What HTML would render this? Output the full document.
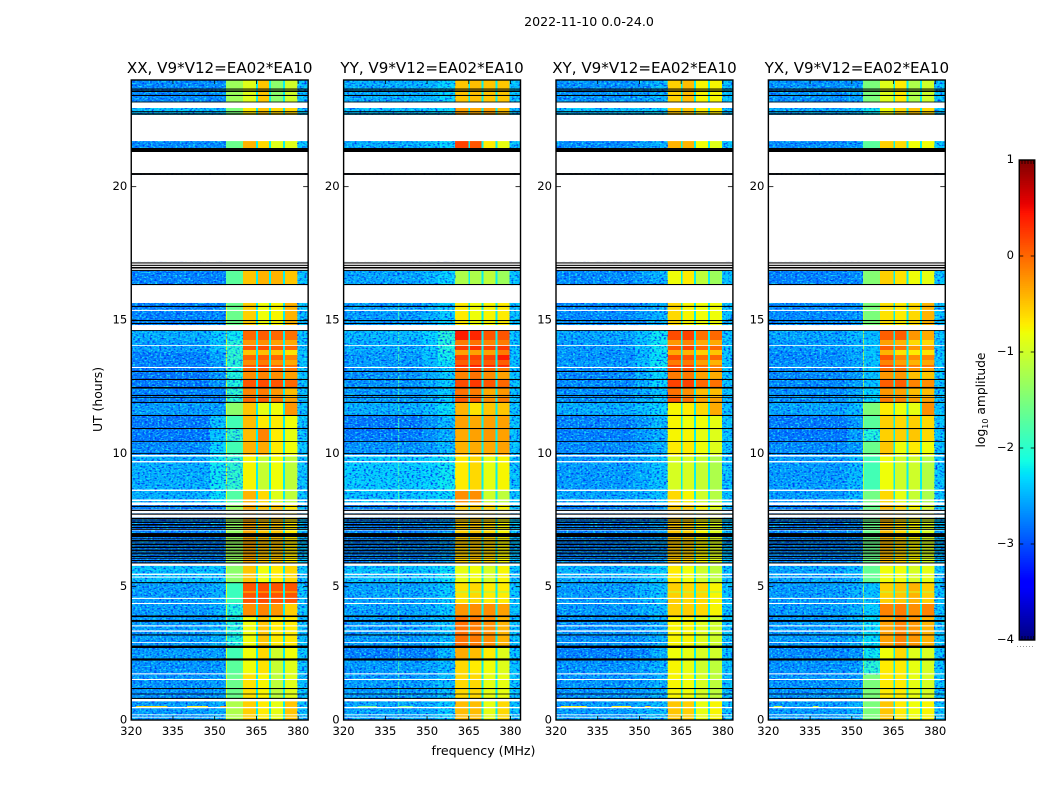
<!DOCTYPE html>
<html><head><meta charset="utf-8"><title>Dynamic spectra</title>
<style>
html,body{margin:0;padding:0;background:#fff;width:1050px;height:800px;overflow:hidden}
svg text{font-family:"DejaVu Sans","Liberation Sans",sans-serif;fill:#000}
</style></head>
<body>
<svg id="figure" xmlns="http://www.w3.org/2000/svg" width="1050" height="800" viewBox="0 0 1050 800">
<defs>
<filter id="speckle-dark" x="0" y="0" width="100%" height="100%" color-interpolation-filters="sRGB">
<feTurbulence type="fractalNoise" baseFrequency="0.42 0.6" numOctaves="1" seed="3"/>
<feColorMatrix type="matrix" values="0 0 0 0 0  0 0 0 0 0.22  0 0 0 0 0.95  4 0 0 0 -1.9"/>
</filter>
<filter id="speckle-light" x="0" y="0" width="100%" height="100%" color-interpolation-filters="sRGB">
<feTurbulence type="fractalNoise" baseFrequency="0.45 0.65" numOctaves="1" seed="11"/>
<feColorMatrix type="matrix" values="0 0 0 0 0.1  0 0 0 0 0.9  0 0 0 0 0.95  0 4 0 0 -2.0"/>
</filter>
</defs>
<text x="589" y="26" font-size="12.6" text-anchor="middle">2022-11-10 0.0-24.0</text>
<text x="483.5" y="755" font-size="12.6" text-anchor="middle">frequency (MHz)</text>
<text transform="translate(102,399.5) rotate(-90)" font-size="12.4" text-anchor="middle">UT (hours)</text>
<text transform="translate(985,400) rotate(-90)" font-size="12.3" text-anchor="middle">log<tspan font-size="8" dy="3">10</tspan><tspan dy="-3"> amplitude</tspan></text>
</svg>
<script>
// ---- axis values ----
const panelTitles = ['XX, V9*V12=EA02*EA10','YY, V9*V12=EA02*EA10','XY, V9*V12=EA02*EA10','YX, V9*V12=EA02*EA10'];
const freqTicks = [320,335,350,365,380];
const hourTicks = [0,5,10,15,20];
const colorbarTicks = [1,0,-1,-2,-3,-4];
// frequency channel-group edges in MHz
const freqEdges = [320,348.4,354,360.1,364.9,365.5,369.6,370.3,374.6,375.3,379.7,383.6];
// which value in a row each frequency group reads: 0 low, 1 mid, 2 shoulder, 3-6 bands, 7 gap, 8 edge
const freqColumnSource = [0,1,2,3,7,4,7,5,7,6,8];
const gapLevel = -2.2;
const edgeLevel = -2.4;
// time rows, UT hours
const rowFromHours = [22.95,22.69,21.30,16.31,14.81,14.25,13.80,13.46,13.20,12.45,11.89,11.44,10.95,10.46,9.94,8.63,8.06,5.78,5.15,4.39,3.90,2.75,2.25,1.70,0.80,0.00];
const rowToHours   = [24.00,22.95,21.71,16.86,15.64,14.62,14.25,13.80,13.46,13.20,12.45,11.89,11.44,10.95,10.46,9.94,8.63,8.06,5.78,5.15,4.39,3.90,2.75,2.25,1.70,0.80];
// log10 amplitude per row: low, mid, shoulder, band1, band2, band3, band4
const xxLevels = [
[-2.7,-2.7,-1.3,-0.9,-0.5,-1.4,-1.0],[-2.4,-2.4,-1.5,-0.7,-0.5,-0.6,-0.6],[-2.7,-2.7,-1.6,-0.4,-0.6,-0.9,-0.9],[-2.75,-2.75,-1.7,-0.5,-0.4,-0.4,-0.5],
[-2.75,-2.7,-1.6,-0.55,-0.8,-0.75,-0.4],[-2.5,-2.35,-2.2,0,0.05,0,-0.05],[-2.6,-2.4,-2.0,0.1,0.15,0.05,0],[-2.75,-2.55,-1.95,0,0.05,0,-0.15],
[-2.75,-2.6,-2.0,0.1,0.2,0.05,-0.05],[-2.8,-2.65,-2.05,-0.2,-0.15,-0.2,-0.3],[-2.75,-2.75,-1.95,0,0.05,-0.1,-0.3],[-2.6,-2.6,-1.4,-0.5,-0.85,-0.8,-0.25],
[-2.8,-2.4,-1.85,-0.45,-0.7,-0.7,-0.8],[-2.8,-2.4,-1.95,-0.45,-0.15,-0.7,-0.85],[-2.7,-2.3,-1.85,-0.4,-0.35,-0.7,-0.8],[-2.5,-2.2,-1.95,-0.75,-1.05,-0.8,-1.1],
[-2.5,-2.25,-1.75,-0.4,-0.6,-0.9,-1.1],[-2.75,-2.75,-1.35,-0.35,-0.5,-0.5,-0.7],[-2.4,-2.4,-1.4,-0.5,-0.8,-0.7,-0.6],[-2.6,-2.5,-1.9,0.1,0.15,0.1,0.1],
[-2.6,-2.5,-2.05,-0.2,-0.15,-0.25,-0.55],[-2.6,-2.5,-2.05,-0.8,-0.5,-0.7,-0.7],[-2.6,-2.6,-1.85,-0.8,-0.6,-1.0,-0.8],[-2.65,-2.6,-1.7,-0.8,-0.65,-1.05,-0.9],
[-2.65,-2.6,-1.6,-0.65,-0.75,-1.1,-0.9],[-2.6,-2.5,-1.2,-0.55,-0.7,-0.85,-0.5]];
const yyLevels = [
[-2.5,-2.45,-2.3,-0.5,-0.45,-0.5,-0.5],[-2.4,-2.35,-2.3,-0.3,-0.35,-0.3,-0.45],[-2.5,-2.4,-2.3,0.2,0.1,-0.7,-0.85],[-2.55,-2.45,-2.3,-1.2,-1.2,-1.1,-1.3],
[-2.6,-2.5,-2.35,-0.7,-0.8,-0.75,-0.7],[-2.45,-2.3,-2.0,0.4,0.35,0.1,0.1],[-2.5,-2.35,-2.05,0.25,0.3,0.2,0.25],[-2.6,-2.4,-2.15,0.2,0.2,0.2,0.4],
[-2.6,-2.45,-2.25,0.35,0.4,0.35,0.35],[-2.65,-2.5,-2.35,-0.15,-0.05,-0.2,-0.3],[-2.6,-2.5,-2.35,0.1,0.05,-0.2,-0.1],[-2.5,-2.4,-2.25,-0.4,-0.65,-0.5,-0.5],
[-2.8,-2.65,-2.45,-0.3,-0.35,-0.3,-0.3],[-2.8,-2.65,-2.5,-0.35,-0.3,-0.25,-0.3],[-2.65,-2.6,-2.45,-0.4,-0.35,-0.35,-0.3],[-2.35,-2.3,-2.2,-0.7,-0.6,-0.85,-0.75],
[-2.4,-2.35,-2.25,-0.2,-0.2,-1.0,-1.1],[-2.75,-2.7,-2.6,-0.55,-0.5,-0.6,-0.75],[-2.4,-2.35,-2.25,-0.85,-0.8,-0.95,-0.75],[-2.55,-2.5,-2.35,-0.65,-0.6,-0.7,-0.7],
[-2.55,-2.5,-2.35,-0.25,-0.2,-0.2,-0.3],[-2.6,-2.5,-2.4,-0.05,-0.1,-0.2,-0.4],[-2.75,-2.7,-2.45,-0.35,-0.45,-0.7,-0.9],[-2.6,-2.55,-2.45,-0.6,-0.7,-0.8,-0.9],
[-2.6,-2.55,-2.45,-0.6,-0.6,-0.85,-0.85],[-2.55,-2.5,-2.35,-0.45,-0.45,-0.85,-0.6]];
const xyLevels = [
[-2.65,-2.6,-2.5,-0.55,-0.45,-0.75,-0.75],[-2.4,-2.4,-2.3,-0.5,-0.5,-0.7,-0.7],[-2.7,-2.6,-2.5,-0.4,-0.4,-0.8,-0.9],[-2.7,-2.6,-2.5,-0.8,-0.7,-1.1,-1.3],
[-2.7,-2.6,-2.5,-0.6,-0.75,-0.8,-0.8],[-2.55,-2.4,-2.2,0.15,0.2,-0.05,0],[-2.6,-2.4,-2.2,0.1,0.2,0,0],[-2.65,-2.45,-2.25,0.15,0.1,-0.05,0],
[-2.6,-2.4,-2.2,0.2,0.2,0,-0.1],[-2.7,-2.5,-2.3,-0.1,-0.1,-0.3,-0.35],[-2.65,-2.5,-2.4,0.1,-0.05,-0.3,-0.3],[-2.5,-2.4,-2.3,-0.75,-0.7,-0.6,-0.35],
[-2.75,-2.6,-2.45,-0.75,-0.8,-0.8,-0.85],[-2.75,-2.6,-2.5,-0.75,-0.75,-0.85,-0.9],[-2.7,-2.6,-2.5,-0.7,-0.7,-0.8,-0.9],[-2.6,-2.5,-2.4,-0.95,-0.95,-1.05,-1.2],
[-2.55,-2.5,-2.4,-0.6,-0.75,-1.0,-1.15],[-2.75,-2.7,-2.6,-0.5,-0.55,-0.75,-0.9],[-2.5,-2.45,-2.35,-0.7,-0.8,-1.0,-1.1],[-2.6,-2.5,-2.4,-0.55,-0.6,-0.6,-0.75],
[-2.6,-2.5,-2.45,-0.55,-0.55,-0.6,-0.75],[-2.65,-2.6,-2.5,-0.75,-0.75,-0.9,-1.0],[-2.75,-2.7,-2.5,-0.8,-0.85,-0.95,-1.0],[-2.65,-2.6,-2.5,-0.75,-0.85,-1.0,-1.1],
[-2.65,-2.6,-2.5,-0.75,-0.8,-0.95,-1.1],[-2.6,-2.5,-2.45,-0.5,-0.55,-0.85,-0.75]];
const yxLevels = [
[-2.65,-2.6,-1.5,-0.9,-0.7,-1.2,-1.0],[-2.5,-2.45,-2.2,-0.8,-0.6,-0.5,-0.6],[-2.7,-2.65,-1.7,-0.55,-0.6,-0.8,-0.8],[-2.75,-2.7,-1.45,-0.55,-0.65,-0.8,-0.85],
[-2.7,-2.65,-1.5,-0.65,-0.7,-0.6,-0.4],[-2.55,-2.45,-2.45,0.05,0.05,-0.25,-0.35],[-2.6,-2.5,-2.4,0.05,-0.05,-0.25,-0.25],[-2.7,-2.55,-2.4,0.1,-0.15,-0.2,-0.15],
[-2.65,-2.55,-2.4,0.15,0,-0.1,-0.05],[-2.7,-2.6,-2.4,-0.25,-0.25,-0.45,-0.5],[-2.65,-2.55,-2.3,-0.1,-0.15,-0.3,-0.3],[-2.55,-2.45,-1.5,-0.7,-0.8,-0.85,-0.2],
[-2.8,-2.6,-1.7,-0.55,-0.6,-0.55,-0.6],[-2.8,-2.6,-2.05,-0.55,-0.55,-0.5,-0.6],[-2.7,-2.6,-1.6,-0.5,-0.8,-0.7,-0.8],[-2.6,-2.45,-1.85,-0.8,-1.0,-1.0,-1.15],
[-2.6,-2.45,-1.55,-0.6,-0.85,-1.05,-1.2],[-2.75,-2.7,-1.6,-0.45,-0.6,-0.75,-0.95],[-2.55,-2.45,-1.65,-0.8,-0.8,-0.95,-0.85],[-2.6,-2.5,-2.4,-0.55,-0.5,-0.4,-0.55],
[-2.6,-2.5,-2.35,-0.15,-0.1,-0.2,-0.15],[-2.6,-2.5,-2.25,-0.3,-0.15,-0.25,-0.4],[-2.7,-2.65,-2.2,-0.8,-0.6,-0.9,-0.95],[-2.65,-2.6,-2.0,-0.7,-0.7,-0.85,-0.95],
[-2.65,-2.6,-1.5,-0.7,-0.7,-0.85,-0.95],[-2.6,-2.5,-1.5,-0.5,-0.7,-0.8,-0.75]];
// horizontal stripes across the bright bands: from hour, to hour, change in log amplitude
const stripeFromHours = [14.06,13.69,13.31,13.05,12.49,12.11,4.78];
const stripeToHours   = [14.25,13.875,13.5,13.2,12.75,12.45,4.82];
const stripeDeltas    = [-0.35,-0.5,-0.3,0.2,0.3,-0.15,-0.6];
// persistent single channels: panel index, MHz, from hour, to hour, log amplitude
const channelPanels = [0,1,3];
const channelFreqs = [354.2,339.8,354.2];
const channelFromHours = [0,0,0];
const channelToHours = [15.6,15.6,15.6];
const channelLevels = [-0.8,-1.8,-1.2];
// bright interference pieces: panel index, hour, MHz start, MHz end, log amplitude
const rfiPanels = [0,0,0,2,2,2,3,3,1,1];
const rfiHours = [0.5,0.5,0.5,0.5,0.5,0.5,0.5,0.5,0.5,0.5];
const rfiStartFreqs = [321.7,340,352,321.7,340,352,322,336,325,340];
const rfiEndFreqs = [333,347.6,354,331,347,354,325,338,332,345];
const rfiLevels = [-0.6,-0.7,-0.2,-0.7,-0.7,-0.6,-1.0,-1.0,-1.5,-1.5];
// flagged-but-blank time ranges [from,to] in UT hours
const blankRanges = [[22.95,23.16],[21.71,22.69],[20.51,21.3],[17.18,20.44],[16.84,17.18],[15.64,16.31],[15.34,15.38],[14.62,14.81],[14.03,14.06],[13.2,13.24],[9.88,9.94],[9.66,9.71],[8.59,8.64],[8.21,8.27],[8.06,8.16],[7.75,7.89],[7.59,7.71],[7.11,7.16],[5.78,5.87],[5.44,5.49],[5.34,5.38],[4.54,4.58],[4.35,4.39],[3.51,3.55],[3.31,3.36],[2.89,2.92],[1.71,1.75],[1.5,1.54],[0.7,0.79],[0.44,0.49],[0.18,0.21],[0.09,0.12]];
// scan-boundary black ranges [from,to] in UT hours
const blackRanges = [[23.64,23.68],[23.55,23.61],[23.4,23.44],[23.16,23.19],[22.79,22.83],[22.7,22.75],[21.3,21.45],[20.44,20.51],[17.12,17.16],[17.03,17.07],[16.93,16.99],[16.84,16.88],[16.31,16.35],[15.49,15.53],[14.96,15.0],[14.85,14.89],[14.59,14.62],[13.05,13.09],[12.75,12.79],[12.43,12.49],[12.15,12.19],[12.08,12.11],[11.89,11.93],[11.4,11.44],[10.91,10.95],[10.43,10.46],[9.98,10.01],[7.99,8.03],[7.84,7.88],[7.7,7.74],[7.52,7.58],[7.45,7.48],[7.39,7.43],[7.29,7.35],[7.2,7.24],[7.13,7.17],[6.86,7.01],[6.78,6.81],[6.69,6.75],[6.62,6.65],[6.56,6.6],[6.51,6.53],[6.45,6.49],[6.4,6.42],[6.34,6.38],[6.28,6.31],[6.23,6.26],[6.18,6.2],[6.11,6.15],[6.05,6.08],[5.96,6.0],[5.87,5.91],[5.13,5.17],[3.86,3.92],[3.68,3.75],[3.17,3.21],[2.7,2.79],[2.23,2.31],[1.16,1.2],[0.96,0.99],[0.79,0.83]];
// upper frequency of the noisy background in each panel, MHz
const noiseEndFreqs = [354,360.1,360.1,354];

// ---- layout ----
const SVGNS = 'http://www.w3.org/2000/svg';
const svg = document.getElementById('figure');
const panelLefts = [131.25,343.62,556,768.37];
const panelWidth = 176.9, plotTop = 80, plotBottom = 720;
const freqMin = 320, freqMax = 383.6, hourMin = 0, hourMax = 24;
const allLevels = [xxLevels,yyLevels,xyLevels,yxLevels];
const cbLeft = 1019.25, cbRight = 1034.75, cbTop = 160, cbBottom = 640, cbMin = -4, cbMax = 1;
const grainShoulderBelow = -1.9;

function xScale(p, mhz){ return panelLefts[p] + (mhz-freqMin)/(freqMax-freqMin)*panelWidth; }
function yScale(h){ return plotBottom - (h-hourMin)/(hourMax-hourMin)*(plotBottom-plotTop); }
function cbScale(v){ return cbBottom - (v-cbMin)/(cbMax-cbMin)*(cbBottom-cbTop); }
function lerp(stops, t){
  for(let i=1;i<stops.length;i++){ if(t<=stops[i][0]){ const a=stops[i-1],b=stops[i]; return a[1]+(b[1]-a[1])*(t-a[0])/(b[0]-a[0]); } }
  return stops[stops.length-1][1];
}
const jetR=[[0,0],[0.35,0],[0.66,1],[0.89,1],[1,0.5]];
const jetG=[[0,0],[0.125,0],[0.375,1],[0.64,1],[0.91,0],[1,0]];
const jetB=[[0,0.5],[0.11,1],[0.34,1],[0.65,0],[1,0]];
function jet(v){
  const t=Math.max(0,Math.min(1,(v-cbMin)/(cbMax-cbMin)));
  return 'rgb('+Math.round(255*lerp(jetR,t))+','+Math.round(255*lerp(jetG,t))+','+Math.round(255*lerp(jetB,t))+')';
}
function shape(tag, parent, attrs){
  const el=document.createElementNS(SVGNS,tag);
  for(const k in attrs){ el.setAttribute(k,attrs[k]); }
  parent.appendChild(el);
  return el;
}

// ---- panels ----
panelTitles.forEach(function(title,p){
  const g=shape('g',svg,{});
  
  

  const levels=allLevels[p];
  rowFromHours.forEach(function(from,r){
    freqColumnSource.forEach(function(src,c){
      const v = src===7 ? gapLevel : src===8 ? edgeLevel : levels[r][src];
      const x0=xScale(p,freqEdges[c]), x1=xScale(p,freqEdges[c+1]);
      const cell=shape('rect',g,{x:x0,y:yScale(rowToHours[r]),width:x1-x0,height:yScale(from)-yScale(rowToHours[r]),fill:jet(v),'shape-rendering':'crispEdges'});
      
      
    });
  });

  stripeFromHours.forEach(function(from,s){
    const to=stripeToHours[s], mid=(from+to)/2;
    const r=rowFromHours.findIndex(function(f,i){ return mid>=f && mid<rowToHours[i]; });
    if(r<0) return;
    freqColumnSource.forEach(function(src,c){
      if(src<3||src>6) return;
      const x0=xScale(p,freqEdges[c]), x1=xScale(p,freqEdges[c+1]);
      const cell=shape('rect',g,{x:x0,y:yScale(to),width:x1-x0,height:yScale(from)-yScale(to),fill:jet(levels[r][src]+stripeDeltas[s]),'shape-rendering':'crispEdges'});
      
      
    });
  });

  channelPanels.forEach(function(cp,i){
    if(cp!==p) return;
    const line=shape('rect',g,{x:xScale(p,channelFreqs[i])-0.5,y:yScale(channelToHours[i]),width:1,height:yScale(channelFromHours[i])-yScale(channelToHours[i]),fill:jet(channelLevels[i])});
    
    
  });

  // pixel-grain texture over the noisy background; a visual style, not data
  const nx0=xScale(p,freqMin), nx1=xScale(p,noiseEndFreqs[p]);
  const ex0=xScale(p,freqEdges[10]), ex1=xScale(p,freqMax);
  const sx0=xScale(p,freqEdges[2]), sx1=xScale(p,freqEdges[3]);
  ['speckle-dark','speckle-light'].forEach(function(f){
    const a=shape('rect',g,{x:nx0,y:plotTop,width:nx1-nx0,height:plotBottom-plotTop,filter:'url(#'+f+')'});
    
    
    const b=shape('rect',g,{x:ex0,y:plotTop,width:ex1-ex0,height:plotBottom-plotTop,filter:'url(#'+f+')'});
    
    
    if(nx1<=sx0+0.01){
      rowFromHours.forEach(function(from,r){
        if(levels[r][2]>=grainShoulderBelow) return;
        const c=shape('rect',g,{x:sx0,y:yScale(rowToHours[r]),width:sx1-sx0,height:yScale(from)-yScale(rowToHours[r]),filter:'url(#'+f+')',opacity:0.75});
        
        
      });
    }
  });

  rfiPanels.forEach(function(rp,i){
    if(rp!==p) return;
    const x0=xScale(p,rfiStartFreqs[i]), x1=xScale(p,rfiEndFreqs[i]);
    const line=shape('rect',g,{x:x0,y:yScale(rfiHours[i])-0.6,width:x1-x0,height:1.2,fill:jet(rfiLevels[i])});
    
    
  });

  blankRanges.forEach(function(rg){
    const band=shape('rect',g,{x:panelLefts[p],y:yScale(rg[1]),width:panelWidth,height:yScale(rg[0])-yScale(rg[1]),fill:'#fff'});
    
    
  });
  blackRanges.forEach(function(rg){
    const band=shape('rect',g,{x:panelLefts[p],y:yScale(rg[1]),width:panelWidth,height:yScale(rg[0])-yScale(rg[1]),fill:'#000'});
    
    
  });

  const frame=shape('rect',g,{x:panelLefts[p],y:plotTop,width:panelWidth,height:plotBottom-plotTop,fill:'none',stroke:'#000','stroke-width':1.4});
  
  

  freqTicks.forEach(function(f){
    const x=xScale(p,f);
    const t1=shape('line',g,{x1:x,x2:x,y1:plotBottom,y2:plotBottom-4,stroke:'#000','stroke-width':0.8});
    
    
    const t2=shape('line',g,{x1:x,x2:x,y1:plotTop,y2:plotTop+4,stroke:'#000','stroke-width':0.8});
    
    
    const lab=shape('text',g,{x:x,y:735,'font-size':11.6,'text-anchor':'middle'});
    lab.textContent=String(f);
    
    
  });
  hourTicks.forEach(function(h){
    const y=yScale(h);
    const t1=shape('line',g,{x1:panelLefts[p],x2:panelLefts[p]+5,y1:y,y2:y,stroke:'#000','stroke-width':0.8});
    
    
    const t2=shape('line',g,{x1:panelLefts[p]+panelWidth,x2:panelLefts[p]+panelWidth-5,y1:y,y2:y,stroke:'#000','stroke-width':0.8});
    
    
    const lab=shape('text',g,{x:panelLefts[p]-4,y:y+3.5,'font-size':11.6,'text-anchor':'end'});
    lab.textContent=String(h);
    
    
  });

  const ttl=shape('text',g,{x:panelLefts[p]+panelWidth/2,y:73,'font-size':15.1,'text-anchor':'middle'});
  ttl.textContent=title;
  
  
});

// ---- colorbar ----
const cb=shape('g',svg,{});


const cbSteps=256;
for(let i=0;i<cbSteps;i++){
  const v0=cbMin+(cbMax-cbMin)*i/cbSteps, v1=cbMin+(cbMax-cbMin)*(i+1)/cbSteps;
  const s=shape('rect',cb,{x:cbLeft,y:cbScale(v1),width:cbRight-cbLeft,height:cbScale(v0)-cbScale(v1)+0.5,fill:jet((v0+v1)/2)});
  
  
}
const cbFrame=shape('rect',cb,{x:cbLeft,y:cbTop,width:cbRight-cbLeft,height:cbBottom-cbTop,fill:'none',stroke:'#000','stroke-width':1.4});


colorbarTicks.forEach(function(v){
  const y=cbScale(v);
  const a=shape('line',cb,{x1:cbLeft,x2:cbLeft+4,y1:y,y2:y,stroke:'#000','stroke-width':0.8});
  
  
  const b=shape('line',cb,{x1:cbRight,x2:cbRight-4,y1:y,y2:y,stroke:'#000','stroke-width':0.8});
  
  
  const lab=shape('text',cb,{x:1014,y:y+3,'font-size':11.6,'text-anchor':'end'});
  lab.textContent=(v<0?'\u2212':'')+Math.abs(v);
  
  
});
[1022,1025,1028,1031,1033.5].forEach(function(x){
  const top=shape('line',cb,{x1:x,x2:x,y1:cbTop,y2:cbTop+4,stroke:'#000','stroke-width':0.7});
  
  
  const bot=shape('line',cb,{x1:x,x2:x,y1:cbBottom,y2:cbBottom-4,stroke:'#000','stroke-width':0.7});
  
  
});
const dots=shape('line',cb,{x1:1017,x2:1035,y1:646.5,y2:646.5,stroke:'#999','stroke-width':1,'stroke-dasharray':'1 2'});


</script>
</body></html>
